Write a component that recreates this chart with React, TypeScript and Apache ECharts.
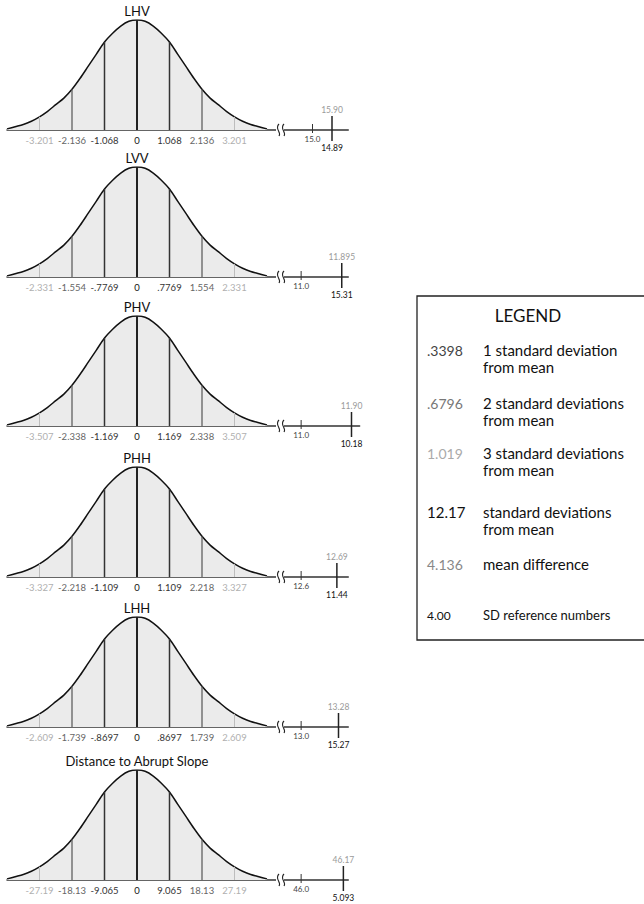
import React, { useEffect, useRef } from "react";
import * as echarts from "echarts";

// ---------- data ----------
const panelTitles = ["LHV", "LVV", "PHV", "PHH", "LHH", "Distance to Abrupt Slope"];
// tick labels at -3..+3 standard deviations
const sdLabels = [
  ["-3.201", "-2.136", "-1.068", "0", "1.068", "2.136", "3.201"],
  ["-2.331", "-1.554", "-.7769", "0", ".7769", "1.554", "2.331"],
  ["-3.507", "-2.338", "-1.169", "0", "1.169", "2.338", "3.507"],
  ["-3.327", "-2.218", "-1.109", "0", "1.109", "2.218", "3.327"],
  ["-2.609", "-1.739", "-.8697", "0", ".8697", "1.739", "2.609"],
  ["-27.19", "-18.13", "-9.065", "0", "9.065", "18.13", "27.19"],
];
const sdRefNumbers = ["15.0", "11.0", "11.0", "12.6", "13.0", "46.0"];
const meanDifferences = ["15.90", "11.895", "11.90", "12.69", "13.28", "46.17"];
const sdFromMean = ["14.89", "15.31", "10.18", "11.44", "15.27", "5.093"];
// bell curve (relative height) at z = -4 .. 4
const curveZ = [
  -4, -3.75, -3.5, -3.25, -3, -2.75, -2.5, -2.25, -2, -1.75, -1.5, -1.25, -1, -0.75, -0.5, -0.25,
  0, 0.25, 0.5, 0.75, 1, 1.25, 1.5, 1.75, 2, 2.25, 2.5, 2.75, 3, 3.25, 3.5, 3.75, 4,
];
const curveH = [
  0.01, 0.03, 0.05, 0.08, 0.12, 0.17, 0.23, 0.29, 0.37, 0.47, 0.58, 0.69, 0.8, 0.88, 0.945, 0.988,
  1.0, 0.988, 0.945, 0.88, 0.8, 0.69, 0.58, 0.47, 0.37, 0.29, 0.23, 0.17, 0.12, 0.08, 0.05, 0.03, 0.01,
];
const sdLines = [-3, -2, -1, 0, 1, 2, 3];

const legendValues = [".3398", ".6796", "1.019", "12.17", "4.136", "4.00"];
const legendTexts = [
  ["1 standard deviation", "from mean"],
  ["2 standard deviations", "from mean"],
  ["3 standard deviations", "from mean"],
  ["standard deviations", "from mean"],
  ["mean difference"],
  ["SD reference numbers"],
];

// ---------- layout ----------
const axisY = [130, 277, 426, 577, 727, 880];
const axisMax = [6.5, 6.5, 6.85, 6.5, 6.5, 6.5];
const breakZ = [4.4, 4.4, 4.4, 4.4, 4.4, 4.4];
const smallTickZ = [5.4, 5.05, 5.05, 5.05, 5.05, 5.05];
const bigTickZ = [6.0, 6.3, 6.6, 6.15, 6.2, 6.35];
const PX_PER_SD = 32.5;
const LEFT = 7;
const PEAK = 110;
const FONT = "Lato, 'Open Sans', sans-serif";

const levelColor = ["#111", "#333", "#666", "#b0b0b0"];
const lineColor = ["#222", "#333", "#555", "#bdbdbd"];
const lineWidth = [2, 1.5, 1.2, 1];

function buildOption() {
  const grid: any[] = [];
  const xAxis: any[] = [];
  const yAxis: any[] = [];
  const series: any[] = [];
  const graphic: any[] = [];

  for (let i = 0; i < panelTitles.length; i++) {
    grid.push({
      left: LEFT,
      top: axisY[i] - PEAK,
      width: PX_PER_SD * (axisMax[i] + 4),
      height: PEAK,
    });
    const labels = sdLabels[i];
    xAxis.push({
      type: "value",
      gridIndex: i,
      min: -4,
      max: axisMax[i],
      interval: 1,
      axisLine: { show: true, lineStyle: { color: "#333", width: 1.5 } },
      axisTick: { show: false },
      splitLine: { show: false },
      axisLabel: {
        show: true,
        margin: 5,
        showMinLabel: true,
        showMaxLabel: false,
        fontSize: 9.5,
        fontFamily: FONT,
        formatter: (v: number) => {
          if (!Number.isInteger(v) || Math.abs(v) > 3) return "";
          const lvl = Math.abs(v);
          return `{c${lvl}|${labels[v + 3]}}`;
        },
        rich: {
          c0: { color: levelColor[0], fontSize: 9.5, fontFamily: FONT },
          c1: { color: levelColor[1], fontSize: 9.5, fontFamily: FONT },
          c2: { color: levelColor[2], fontSize: 9.5, fontFamily: FONT },
          c3: { color: levelColor[3], fontSize: 9.5, fontFamily: FONT },
        },
      },
    });
    yAxis.push({
      type: "value",
      gridIndex: i,
      min: 0,
      max: 1,
      show: false,
    });

    // bell curve
    series.push({
      type: "line",
      xAxisIndex: i,
      yAxisIndex: i,
      data: curveZ.map((z, k) => [z, curveH[k]]),
      smooth: 0.3,
      symbol: "none",
      lineStyle: { color: "#111", width: 1.5 },
      areaStyle: { color: "#ebebeb", opacity: 1 },
      z: 2,
    });

    // SD vertical lines
    series.push({
      type: "custom",
      xAxisIndex: i,
      yAxisIndex: i,
      data: sdLines.map((z) => [z, curveH[curveZ.indexOf(z)], Math.abs(z)]),
      encode: { x: 0, y: 1 },
      renderItem: (params: any, api: any) => {
        const z = api.value(0);
        const h = api.value(1);
        const lvl = api.value(2);
        const p0 = api.coord([z, 0]);
        const p1 = api.coord([z, h]);
        return {
          type: "line",
          shape: { x1: p0[0], y1: p0[1], x2: p1[0], y2: p1[1] },
          style: { stroke: lineColor[lvl], lineWidth: lineWidth[lvl] },
        };
      },
      z: 3,
    });

    // axis break + reference ticks
    const idx = i;
    series.push({
      type: "custom",
      xAxisIndex: i,
      yAxisIndex: i,
      data: [[breakZ[i], 0, smallTickZ[i], bigTickZ[i]]],
      encode: { x: 0, y: 1 },
      renderItem: (params: any, api: any) => {
        const pb = api.coord([api.value(0), 0]);
        const ps = api.coord([api.value(2), 0]);
        const pg = api.coord([api.value(3), 0]);
        const y = pb[1];
        const bx = pb[0];
        const children: any[] = [
          { type: "rect", shape: { x: bx - 4, y: y - 3, width: 8, height: 6 }, style: { fill: "#fff" } },
          {
            type: "bezierCurve",
            shape: { x1: bx - 1, y1: y - 6, x2: bx - 1, y2: y + 6, cpx1: bx - 6, cpy1: y - 1, cpx2: bx + 2, cpy2: y + 2 },
            style: { stroke: "#222", lineWidth: 1.1, fill: null },
          },
          {
            type: "bezierCurve",
            shape: { x1: bx + 4, y1: y - 6, x2: bx + 4, y2: y + 6, cpx1: bx - 1, cpy1: y - 1, cpx2: bx + 7, cpy2: y + 2 },
            style: { stroke: "#222", lineWidth: 1.1, fill: null },
          },
          {
            type: "line",
            shape: { x1: ps[0], y1: y - 6, x2: ps[0], y2: y + 3 },
            style: { stroke: "#333", lineWidth: 1 },
          },
          {
            type: "text",
            x: ps[0],
            y: y + 5,
            style: { text: sdRefNumbers[idx], fill: "#444", fontSize: 8, fontFamily: FONT, align: "center", verticalAlign: "top" },
          },
          {
            type: "line",
            shape: { x1: pg[0], y1: y - 14, x2: pg[0], y2: y + 11 },
            style: { stroke: "#222", lineWidth: 1.5 },
          },
          {
            type: "text",
            x: pg[0],
            y: y - 16,
            style: { text: meanDifferences[idx], fill: "#9a9a9a", fontSize: 8.5, fontFamily: FONT, align: "center", verticalAlign: "bottom" },
          },
          {
            type: "text",
            x: pg[0],
            y: y + 17.5,
            style: { text: sdFromMean[idx], fill: "#111", fontSize: 8.5, fontFamily: FONT, align: "center", verticalAlign: "middle" },
          },
        ];
        return { type: "group", children };
      },
      z: 5,
    });

    // title
    graphic.push({
      type: "text",
      x: LEFT + 4 * PX_PER_SD,
      y: axisY[i] - 119.5,
      style: {
        text: panelTitles[i],
        fill: "#111",
        fontSize: 13,
        fontFamily: FONT,
        align: "center",
        verticalAlign: "middle",
      },
    });
  }

  // legend box
  const lx = 417;
  const ly = 296;
  graphic.push({
    type: "rect",
    shape: { x: lx, y: ly, width: 260, height: 344 },
    style: { fill: "#fff", stroke: "#222", lineWidth: 1.3 },
    z: 0,
  });
  graphic.push({
    type: "text",
    x: 528,
    y: 315,
    style: { text: "LEGEND", fill: "#111", fontSize: 17, fontFamily: FONT, align: "center", verticalAlign: "middle" },
  });
  const legendRowY = [350, 403, 453, 512, 564, 615];
  const legendValColor = ["#444", "#777", "#aaa", "#111", "#888", "#111"];
  const legendValSize = [14, 14, 14, 15, 14, 12];
  for (let k = 0; k < legendValues.length; k++) {
    graphic.push({
      type: "text",
      x: 427,
      y: legendRowY[k],
      style: {
        text: legendValues[k],
        fill: legendValColor[k],
        fontSize: legendValSize[k],
        fontFamily: FONT,
        align: "left",
        verticalAlign: "middle",
      },
    });
    legendTexts[k].forEach((t, j) => {
      graphic.push({
        type: "text",
        x: 483,
        y: legendRowY[k] + j * 17,
        style: { text: t, fill: "#111", fontSize: k === 5 ? 13 : 15, fontFamily: FONT, align: "left", verticalAlign: "middle" },
      });
    });
  }

  return {
    animation: false,
    backgroundColor: "#fff",
    grid,
    xAxis,
    yAxis,
    series,
    graphic,
  };
}

export default function App() {
  const ref = useRef<HTMLDivElement>(null);
  useEffect(() => {
    if (!ref.current) return;
    const chart = echarts.init(ref.current, null, { renderer: "svg" });
    chart.setOption(buildOption() as any);
    return () => chart.dispose();
  }, []);
  return (
    <div
      ref={ref}
      style={{ position: "absolute", left: 0, top: 0, width: 644, height: 904, background: "#fff" }}
    />
  );
}
